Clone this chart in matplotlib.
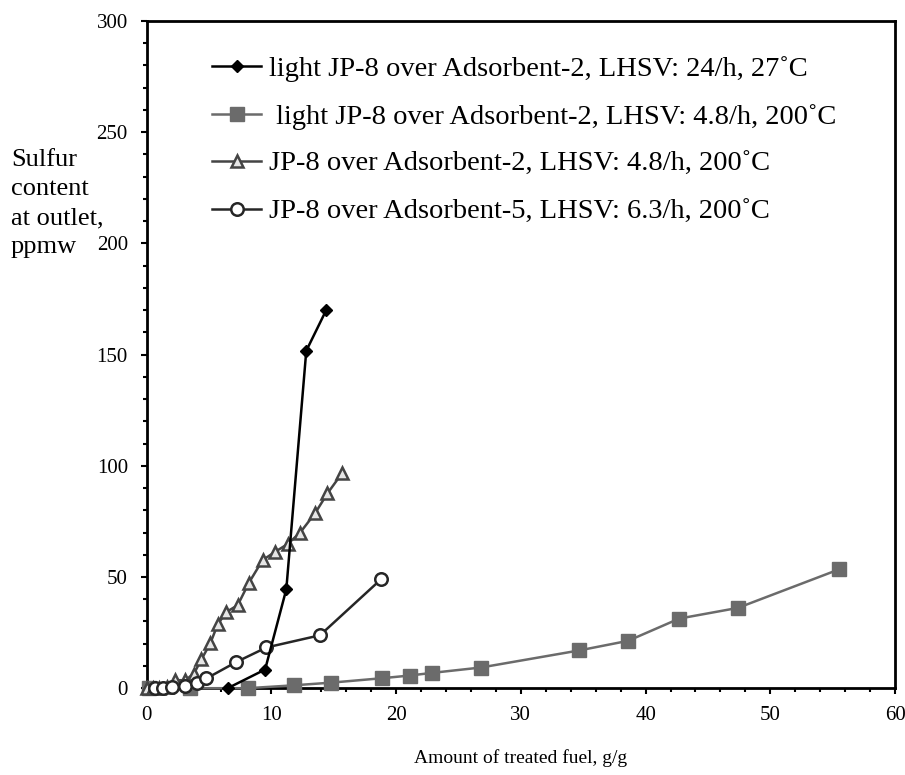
import numpy as np
import matplotlib.pyplot as plt
from matplotlib.ticker import MultipleLocator

plt.rcParams['font.family'] = ['Liberation Serif', 'DejaVu Serif']

# light JP-8 over Adsorbent-2, LHSV 24/h, 27 C
x_dia = [6.5, 9.5, 11.2, 12.8, 14.4]
y_dia = [0.0, 8.4, 44.5, 151.7, 170.0]

# light JP-8 over Adsorbent-2, LHSV 4.8/h, 200 C
x_sq = [0.2, 3.5, 8.1, 11.8, 14.8, 18.9, 21.1, 22.9, 26.8, 34.7, 38.6, 42.7, 47.4, 55.5]
y_sq = [0.0, 0.0, 0.0, 1.3, 2.5, 4.5, 5.7, 6.9, 9.3, 17.0, 21.3, 31.3, 36.1, 53.4]

# JP-8 over Adsorbent-2, LHSV 4.8/h, 200 C
x_tri = [0.0, 0.5, 1.0, 1.6, 2.3, 3.1, 3.8, 4.4, 5.1, 5.7, 6.4, 7.3, 8.2, 9.3,
         10.3, 11.3, 12.3, 13.5, 14.5, 15.7]
y_tri = [0.0, 0.0, 0.0, 0.5, 3.6, 3.6, 6.6, 13.0, 20.1, 28.7, 34.3, 37.3, 47.4, 57.6,
         61.3, 64.8, 69.9, 78.6, 87.6, 96.9]

# JP-8 over Adsorbent-5, LHSV 6.3/h, 200 C
x_circ = [0.7, 1.3, 2.0, 3.1, 4.0, 4.8, 7.2, 9.6, 13.9, 18.8]
y_circ = [0.0, 0.0, 0.5, 0.8, 2.2, 4.4, 11.8, 18.3, 23.8, 49.0]

labels = ['light JP-8 over Adsorbent-2, LHSV: 24/h, 27\u02daC',
          ' light JP-8 over Adsorbent-2, LHSV: 4.8/h, 200\u02daC',
          'JP-8 over Adsorbent-2, LHSV: 4.8/h, 200\u02daC',
          'JP-8 over Adsorbent-5, LHSV: 6.3/h, 200\u02daC']
ylabel_lines = ['Sulfur', 'content', 'at outlet,', 'ppmw']

fig = plt.figure(figsize=(9.05, 7.75), dpi=100)
ax = fig.add_axes([0.162, 0.112, 0.827, 0.861])

ax.plot(x_dia, y_dia, '-D', color='black', lw=1.8, ms=6.5, label=labels[0], clip_on=False, zorder=5)
ax.plot(x_sq, y_sq, '-s', color='#6b6b6b', lw=1.8, ms=10, label=labels[1], clip_on=False, zorder=3)
ax.plot(x_tri, y_tri, '-^', color='#444444', mfc='#e6e6e6', mec='#444444', mew=1.8,
        lw=1.8, ms=9, label=labels[2], clip_on=False, zorder=4)
ax.plot(x_circ, y_circ, '-o', color='#262626', mfc='white', mec='#262626', mew=1.8,
        lw=1.8, ms=9, label=labels[3], clip_on=False, zorder=4)

ax.set_xlim(0, 60)
ax.set_ylim(0, 300)
ax.xaxis.set_major_locator(MultipleLocator(10))
ax.xaxis.set_minor_locator(MultipleLocator(2))
ax.yaxis.set_major_locator(MultipleLocator(50))
ax.yaxis.set_minor_locator(MultipleLocator(10))
ax.tick_params(which='both', direction='out', width=1.5, labelsize=15)
ax.tick_params(which='major', length=4.5)
ax.tick_params(which='minor', length=3)
ax.tick_params(axis='x', pad=8)
ax.tick_params(axis='y', pad=9)
for sp in ax.spines.values():
    sp.set_linewidth(2)

ax.set_xlabel('Amount of treated fuel, g/g', fontsize=14, labelpad=18)

# y label written as four separate lines to the left of the tick labels
for i, line in enumerate(ylabel_lines):
    fig.text(0.012, 1 - (158 + i * 28.8) / 775, line, fontsize=19,
             ha='left', va='center_baseline')

ax.legend(loc='upper left', bbox_to_anchor=(0.088, 0.947), frameon=False,
          fontsize=20.5, handlelength=1.7, handletextpad=0.28, labelspacing=0.76,
          borderpad=0, borderaxespad=0)

fig.savefig('out.png', dpi=100)
